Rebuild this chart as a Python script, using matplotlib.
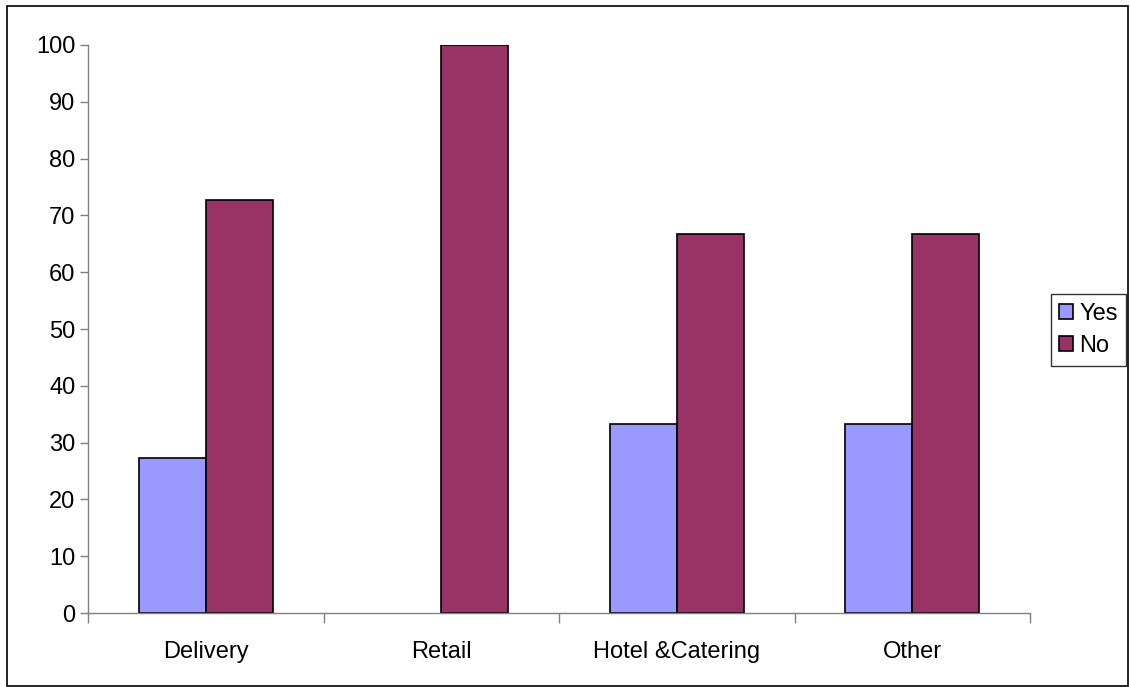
import numpy as np
import matplotlib
matplotlib.use('Agg')
import matplotlib.pyplot as plt
from matplotlib.patches import Rectangle

categories = ['Delivery', 'Retail', 'Hotel &Catering', 'Other']
yes_values = [27.3, 0, 33.3, 33.3]
no_values = [72.7, 100, 66.7, 66.7]

plt.rcParams['font.family'] = ['Liberation Sans', 'DejaVu Sans']

fig = plt.figure(figsize=(11.3, 6.87), dpi=100)
ax = fig.add_axes([0.0779, 0.1077, 0.8336, 0.8268])

x = np.arange(len(categories))
w = 0.285
bars_yes = ax.bar(x - w / 2, yes_values, w, color='#9999FF', edgecolor='black', linewidth=1.2, label='Yes')
bars_no = ax.bar(x + w / 2, no_values, w, color='#993366', edgecolor='black', linewidth=1.2, label='No')
# empty bars should not leave a stroke on the axis
for b, v in zip(list(bars_yes) + list(bars_no), yes_values + no_values):
    if v == 0:
        b.set_visible(False)

ax.set_xlim(-0.5, len(categories) - 0.5)
ax.set_ylim(0, 100)
ax.set_yticks(range(0, 101, 10))
ax.tick_params(axis='y', labelsize=17, length=6, width=1, color='#808080', pad=3)
ax.set_xticks(np.arange(len(categories) + 1) - 0.5)
ax.set_xticklabels([])
ax.set_xticks(x, minor=True)
ax.set_xticklabels(categories, minor=True, fontsize=17)
ax.tick_params(axis='x', which='major', length=7, width=1, color='#808080', direction='out')
ax.tick_params(axis='x', which='minor', length=0, pad=20)

for s in ['top', 'right']:
    ax.spines[s].set_visible(False)
for s in ['left', 'bottom']:
    ax.spines[s].set_color('#808080')
    ax.spines[s].set_linewidth(1)

leg = ax.legend(loc='center left', bbox_to_anchor=(1051 / 1130, 1 - 330 / 687),
                bbox_transform=fig.transFigure, fontsize=17, frameon=True,
                fancybox=False, edgecolor='black', handlelength=0.6, handleheight=0.6,
                handletextpad=0.25, borderpad=0.35, labelspacing=0.45, borderaxespad=0)
leg.get_frame().set_linewidth(1)

fig.patches.append(Rectangle((7 / 1130, 1 / 687), 1121 / 1130, 680 / 687, transform=fig.transFigure,
                             fill=False, edgecolor='black', linewidth=1.2))

fig.savefig('out.png', dpi=100)
